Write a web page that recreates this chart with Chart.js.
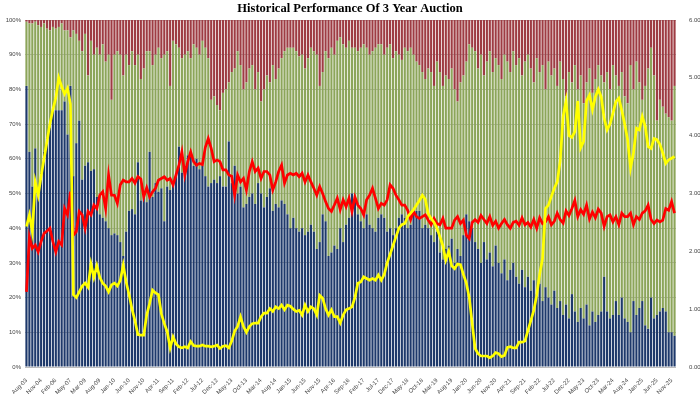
<!DOCTYPE html>
<html>
<head>
<meta charset="utf-8">
<title>Historical Performance Of 3 Year Auction</title>
<script src="https://cdn.jsdelivr.net/npm/chart.js@4.4.1/dist/chart.umd.min.js"></script>
<style>
  html, body { margin: 0; padding: 0; background: #fff; }
  #wrap { width: 700px; height: 394px; }
</style>
</head>
<body>
<div id="wrap"><canvas id="auction" width="700" height="394"></canvas></div>
<script>
// auction dates: quarterly up to May-07, then monthly from Nov-08
const auctionDates = (
  "Aug-03 Nov-03 Feb-04 May-04 Aug-04 Nov-04 Feb-05 May-05 Aug-05 Nov-05 Feb-06 May-06 Aug-06 Nov-06 Feb-07 May-07 " +
  "Nov-08 Dec-08 " +
  "Jan-09 Feb-09 Mar-09 Apr-09 May-09 Jun-09 Jul-09 Aug-09 Sep-09 Oct-09 Nov-09 Dec-09 " +
  "Jan-10 Feb-10 Mar-10 Apr-10 May-10 Jun-10 Jul-10 Aug-10 Sep-10 Oct-10 Nov-10 Dec-10 " +
  "Jan-11 Feb-11 Mar-11 Apr-11 May-11 Jun-11 Jul-11 Aug-11 Sep-11 Oct-11 Nov-11 Dec-11 " +
  "Jan-12 Feb-12 Mar-12 Apr-12 May-12 Jun-12 Jul-12 Aug-12 Sep-12 Oct-12 Nov-12 Dec-12 " +
  "Jan-13 Feb-13 Mar-13 Apr-13 May-13 Jun-13 Jul-13 Aug-13 Sep-13 Oct-13 Nov-13 Dec-13 " +
  "Jan-14 Feb-14 Mar-14 Apr-14 May-14 Jun-14 Jul-14 Aug-14 Sep-14 Oct-14 Nov-14 Dec-14 " +
  "Jan-15 Feb-15 Mar-15 Apr-15 May-15 Jun-15 Jul-15 Aug-15 Sep-15 Oct-15 Nov-15 Dec-15 " +
  "Jan-16 Feb-16 Mar-16 Apr-16 May-16 Jun-16 Jul-16 Aug-16 Sep-16 Oct-16 Nov-16 Dec-16 " +
  "Jan-17 Feb-17 Mar-17 Apr-17 May-17 Jun-17 Jul-17 Aug-17 Sep-17 Oct-17 Nov-17 Dec-17 " +
  "Jan-18 Feb-18 Mar-18 Apr-18 May-18 Jun-18 Jul-18 Aug-18 Sep-18 Oct-18 Nov-18 Dec-18 " +
  "Jan-19 Feb-19 Mar-19 Apr-19 May-19 Jun-19 Jul-19 Aug-19 Sep-19 Oct-19 Nov-19 Dec-19 " +
  "Jan-20 Feb-20 Mar-20 Apr-20 May-20 Jun-20 Jul-20 Aug-20 Sep-20 Oct-20 Nov-20 Dec-20 " +
  "Jan-21 Feb-21 Mar-21 Apr-21 May-21 Jun-21 Jul-21 Aug-21 Sep-21 Oct-21 Nov-21 Dec-21 " +
  "Jan-22 Feb-22 Mar-22 Apr-22 May-22 Jun-22 Jul-22 Aug-22 Sep-22 Oct-22 Nov-22 Dec-22 " +
  "Jan-23 Feb-23 Mar-23 Apr-23 May-23 Jun-23 Jul-23 Aug-23 Sep-23 Oct-23 Nov-23 Dec-23 " +
  "Jan-24 Feb-24 Mar-24 Apr-24 May-24 Jun-24 Jul-24 Aug-24 Sep-24 Oct-24 Nov-24 Dec-24 " +
  "Jan-25 Feb-25 Mar-25 Apr-25 May-25 Jun-25 Jul-25 Aug-25 Sep-25 Oct-25 Nov-25 Dec-25"
).split(" ");

// allotment, % of accepted (bars, left axis)
const dealers = [
  81,62,52,63,50,56,62,66,69,74,74,74,74,76.5,67,81,
  55,64.5,71,54,58,59,56.5,57,49,44,43,42,40,38,
  38.5,38,36,32,39,45,45.5,44,59,48,50,47.5,62,49,53,50.5,51.5,42,52,51,53,56,63.5,56,58,61,62,58,60,57,
  58,55,52,53,54,53,55,52,52,65,53,58,50,52,46,47,49,50,47,53,50,46,49,51.5,45,47,46,48,47,44,
  40,43,40,39,40,38,39,41,39,34,36,44,42,32,33,35,34,40,36,41,43,50,48,44,42,40,44,41,40,39,
  43,44,43,39,40,38,40,43,44,43,40,41,44,45,45,40,41,40,38,36,39,33,31,34,35,37,30,34,32,38,
  44,42,40,36,34,30,36,31,33,29,35,30,27,31,25,28,30,26,24,28,23,26,22,25,21,24,19,23,20,18,
  22,17,19,15,18,14,21,16,13,17,14,18,12,16,13,15,16,26,16,14,15,19,15,20,14,13,10,19,15,17,
  19,12,11,20,14,15,16,17,16,10,10,9
];
const indirects = [
  18.5,37,47,36.5,48.5,42,37,31.5,28,24,23.5,24,25,20.5,30,14,
  42,31.5,23,37,38,25,37.5,33,43,46,50,46,50,39,
  51.5,53,54,52,51,42,45.5,43,31,35,36,43.5,29,38,37,41.5,37.5,48,39,30,41,37,28.5,33,32,30,27,35,32,33,
  36,37,37,24,24,22.5,19,27,28,17,32,28,41,35,34,35,37,37,33,32,26.5,34,35,30.5,42,36,40,41,44,48,
  52,49,51,50.5,50,48,50,51,52,56,45,41,49,57,59,55,60,55,57,51,51,42,44,47,50,53,48,49,51,53,
  50,49,47,53,53,51,51,47,44.5,49,51,51,46,43,42,45,42,46,47,45,49,52,50,50,48,49,50,42.5,50,46,
  44,51,52,55,52,60,48,57,58,56,54,57,56,59,63,57,61,61,65,56,65,64,64,57,68,61,68,57,68,66,
  64,64,69,68,60,71,61,71,67,67,62,64,74,63,70,72,68,56,69,66,72,65,66,65,64,63,77,61,73,65,
  58,69,75,72,70,56,61,58,57,62,61,72
];
const directs = [
  0.5,1,1,0.5,1.5,2,1,2.5,3,2,2.5,2,1,3,3,5,
  3,4,6,9,4,16,6,10,8,10,7,12,10,23,
  10,9,10,16,10,13,9,13,10,17,14,9,9,13,10,8,11,10,9,19,6,7,8,11,10,9,11,7,8,10,
  6,8,11,23,22,24.5,26,21,20,18,15,14,9,13,20,18,14,13,20,15,23.5,20,16,18,13,17,14,11,9,8,
  8,8,9,10.5,10,14,11,8,9,10,19,15,9,11,8,10,6,5,7,8,6,8,8,9,8,7,8,10,9,8,
  7,7,10,8,7,11,9,10,11.5,8,9,8,10,12,13,15,17,14,15,19,12,15,19,16,17,14,20,23.5,18,16,
  12,7,8,9,14,10,16,12,9,15,11,13,17,10,12,15,9,13,11,16,12,10,14,18,11,15,13,20,12,16,
  14,19,12,17,22,15,18,13,20,16,24,18,14,21,17,13,16,18,15,20,13,16,19,15,22,24,13,20,12,18,
  23,19,14,8,16,29,23,25,27,28,29,19
];

// lines, right axis
const bidToCover = [
  1.3,2.25,2.05,2.11,1.99,2.17,2.31,2.35,2.40,2.17,1.99,2.17,2.11,2.74,2.63,3.03,
  2.28,2.34,2.69,2.63,2.40,2.69,2.63,2.80,2.74,2.97,3.03,2.74,3.32,2.97,
  2.97,2.83,3.15,3.23,3.20,3.20,3.26,3.18,3.29,3.25,2.94,3.10,2.94,3.03,3.09,3.23,3.26,3.29,3.23,3.26,3.15,3.32,3.49,3.72,3.32,3.55,3.72,3.55,3.49,3.52,
  3.50,3.80,3.95,3.78,3.55,3.58,3.55,3.41,3.41,3.32,3.30,2.97,3.32,3.20,3.26,3.06,3.38,3.55,3.38,3.44,3.26,3.38,3.38,3.32,3.06,3.20,3.38,3.49,3.18,3.32,
  3.35,3.32,3.35,3.29,3.35,3.20,3.32,3.20,3.09,2.97,3.12,3.00,2.86,2.74,2.69,2.80,2.92,2.72,2.89,2.77,2.92,2.69,2.94,2.80,2.74,2.63,2.89,2.97,3.09,2.92,
  2.74,2.83,2.80,2.89,3.15,3.09,2.97,2.89,2.80,2.80,2.71,2.55,2.69,2.60,2.57,2.60,2.63,2.54,2.46,2.57,2.48,2.46,2.57,2.40,2.40,2.40,2.54,2.60,2.48,2.54,
  2.28,2.22,2.50,2.55,2.50,2.62,2.55,2.48,2.60,2.45,2.52,2.40,2.48,2.55,2.46,2.40,2.50,2.52,2.45,2.58,2.46,2.50,2.42,2.55,2.40,2.58,2.48,2.51,2.60,2.46,
  2.52,2.66,2.55,2.49,2.70,2.62,2.74,2.88,2.60,2.72,2.64,2.80,2.56,2.68,2.58,2.73,2.66,2.43,2.60,2.63,2.51,2.60,2.46,2.66,2.60,2.60,2.66,2.46,2.60,2.55,
  2.66,2.70,2.80,2.55,2.48,2.54,2.51,2.54,2.74,2.71,2.86,2.66
];
const highYield = [
  2.43,2.63,2.34,3.20,2.97,3.30,3.60,3.90,4.20,4.45,4.65,5.00,4.85,4.72,4.82,4.55,
  1.25,1.20,1.30,1.40,1.45,1.38,1.78,1.55,1.75,1.55,1.45,1.40,1.30,1.42,
  1.45,1.40,1.50,1.76,1.47,1.25,1.00,0.80,0.56,0.55,0.55,0.90,1.10,1.33,1.28,1.25,0.92,0.75,0.61,0.33,0.52,0.40,0.35,0.33,0.35,0.33,0.44,0.37,0.36,0.36,
  0.38,0.36,0.36,0.35,0.36,0.38,0.32,0.36,0.37,0.33,0.45,0.62,0.70,0.87,0.70,0.60,0.70,0.75,0.76,0.76,0.87,0.93,0.93,1.01,0.96,1.04,1.01,1.07,0.99,1.07,
  1.05,1.00,0.96,0.98,0.90,1.07,0.96,1.04,1.01,0.90,1.24,1.19,1.01,0.90,0.99,0.87,0.87,0.76,0.90,0.99,1.01,1.04,1.20,1.45,1.47,1.56,1.53,1.50,1.53,1.50,
  1.59,1.50,1.60,1.80,1.95,2.10,2.25,2.40,2.46,2.48,2.60,2.66,2.72,2.80,2.88,2.97,2.90,2.65,2.57,2.50,2.40,2.25,2.10,1.85,2.00,1.75,1.70,1.78,1.77,1.60,
  1.45,1.20,0.75,0.32,0.23,0.19,0.19,0.19,0.16,0.19,0.25,0.23,0.18,0.20,0.34,0.35,0.33,0.33,0.43,0.43,0.45,0.63,0.80,0.98,1.24,1.60,1.88,2.74,2.80,2.95,
  3.09,3.20,3.56,4.33,4.60,4.00,3.97,4.07,4.60,3.79,3.90,4.60,4.70,4.45,4.67,4.80,4.67,4.30,4.10,4.20,4.39,4.59,4.65,4.44,4.20,3.93,3.44,3.70,4.13,4.10,
  4.33,4.16,3.81,3.78,3.95,3.93,3.85,3.70,3.52,3.58,3.61,3.64
];

const tickFont = { family: "Liberation Sans", size: 6 };

function barSet(label, data, color) {
  return {
    type: "bar",
    label: label,
    data: data,
    backgroundColor: color,
    yAxisID: "y",
    stack: "allot",
    order: 2,
    barPercentage: 0.74,
    categoryPercentage: 1,
  };
}

function lineSet(label, data, color, order) {
  return {
    type: "line",
    label: label,
    data: data,
    borderColor: color,
    borderWidth: 2.7,
    pointRadius: 0,
    tension: 0,
    yAxisID: "y1",
    order: order,
  };
}

new Chart(document.getElementById("auction"), {
  data: {
    labels: auctionDates,
    datasets: [
      barSet("Dealers", dealers, "#1e396b"),
      barSet("Indirects", indirects, "#8ca55a"),
      barSet("Directs", directs, "#9e3c43"),
      lineSet("Bid to Cover", bidToCover, "#ff0000", 1),
      lineSet("High Yield", highYield, "#ffff00", 0),
    ],
  },
  options: {
    responsive: false,
    animation: false,
    devicePixelRatio: 1,
    layout: { padding: 0 },
    plugins: {
      legend: { display: false },
      tooltip: { enabled: false },
      title: {
        display: true,
        text: "Historical Performance Of 3 Year Auction",
        color: "#000",
        font: { family: "Liberation Serif", size: 12.5, weight: "bold" },
        padding: { top: 1, bottom: 4 },
      },
    },
    scales: {
      x: {
        stacked: true,
        grid: { display: false },
        border: { display: false },
        ticks: {
          autoSkip: false,
          minRotation: 45,
          maxRotation: 45,
          padding: 2,
          color: "#444",
          font: tickFont,
          callback: function (value, index) {
            return index % 5 === 0 ? this.getLabelForValue(value) : "";
          },
        },
        afterFit: (scale) => { scale.height = 27; },
      },
      y: {
        stacked: true,
        position: "left",
        min: 0,
        max: 100,
        z: 1,
        grid: { color: "rgba(110,110,110,0.45)", drawTicks: false },
        border: { display: false },
        ticks: {
          stepSize: 10,
          padding: 4,
          color: "#444",
          font: tickFont,
          callback: (v) => v + "%",
        },
        afterFit: (scale) => { scale.width = 25; },
      },
      y1: {
        position: "right",
        min: 0,
        max: 6,
        grid: { display: false },
        border: { display: false },
        ticks: {
          stepSize: 1,
          padding: 5,
          color: "#444",
          font: tickFont,
          callback: (v) => v.toFixed(3),
        },
        afterFit: (scale) => { scale.width = 24; },
      },
    },
  },
});
</script>
</body>
</html>
